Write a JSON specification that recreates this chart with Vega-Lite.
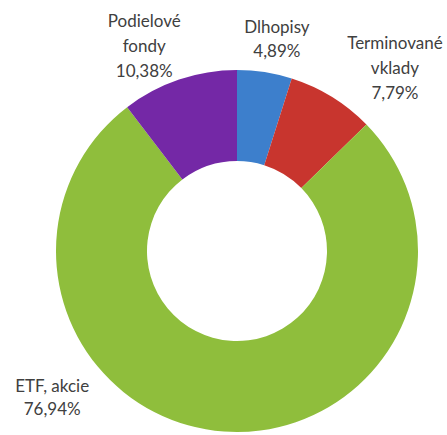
{
  "$schema": "https://vega.github.io/schema/vega-lite/v6.json",
  "width": 420,
  "height": 368,
  "autosize": {"type": "none"},
  "padding": {"left": 27, "top": 67, "right": 0, "bottom": 0},
  "background": "white",
  "config": {"view": {"stroke": null}},
  "data": {
    "values": [
      {"kategoria": "Dlhopisy", "podiel": 4.89, "poradie": 1, "label": "Dlhopisy\n4,89%"},
      {"kategoria": "Terminované vklady", "podiel": 7.79, "poradie": 2, "label": "Terminované\nvklady\n7,79%"},
      {"kategoria": "ETF, akcie", "podiel": 76.94, "poradie": 3, "label": "ETF, akcie\n76,94%"},
      {"kategoria": "Podielové fondy", "podiel": 10.38, "poradie": 4, "label": "Podielové\nfondy\n10,38%"}
    ]
  },
  "encoding": {
    "theta": {"field": "podiel", "type": "quantitative", "stack": true},
    "order": {"field": "poradie", "type": "quantitative"}
  },
  "layer": [
    {
      "mark": {"type": "arc", "outerRadius": 181, "innerRadius": 90},
      "encoding": {
        "color": {
          "field": "kategoria",
          "type": "nominal",
          "scale": {
            "domain": ["Dlhopisy", "Terminované vklady", "ETF, akcie", "Podielové fondy"],
            "range": ["#3d7fcc", "#c8352e", "#8fbe3c", "#7428a6"]
          },
          "legend": null
        }
      }
    },
    {
      "mark": {"type": "text", "radius": 215, "dx": 7, "dy": -11, "font": "Lato", "fontSize": 17, "lineHeight": 24, "lineBreak": "\n", "align": "center", "baseline": "middle", "color": "#404040"},
      "encoding": {"text": {"condition": {"test": "datum.kategoria == 'Dlhopisy'", "field": "label"}, "value": ""}}
    },
    {
      "mark": {"type": "text", "radius": 244, "dx": 30, "dy": 1, "font": "Lato", "fontSize": 17, "lineHeight": 25, "lineBreak": "\n", "align": "center", "baseline": "middle", "color": "#404040"},
      "encoding": {"text": {"condition": {"test": "datum.kategoria == 'Terminované vklady'", "field": "label"}, "value": ""}}
    },
    {
      "mark": {"type": "text", "radius": 164, "dx": -173, "dy": -28, "font": "Lato", "fontSize": 17, "lineHeight": 23, "lineBreak": "\n", "align": "center", "baseline": "middle", "color": "#404040"},
      "encoding": {"text": {"condition": {"test": "datum.kategoria == 'ETF, akcie'", "field": "label"}, "value": ""}}
    },
    {
      "mark": {"type": "text", "radius": 224, "dx": -21, "dy": -17, "font": "Lato", "fontSize": 17, "lineHeight": 25, "lineBreak": "\n", "align": "center", "baseline": "middle", "color": "#404040"},
      "encoding": {"text": {"condition": {"test": "datum.kategoria == 'Podielové fondy'", "field": "label"}, "value": ""}}
    }
  ]
}
